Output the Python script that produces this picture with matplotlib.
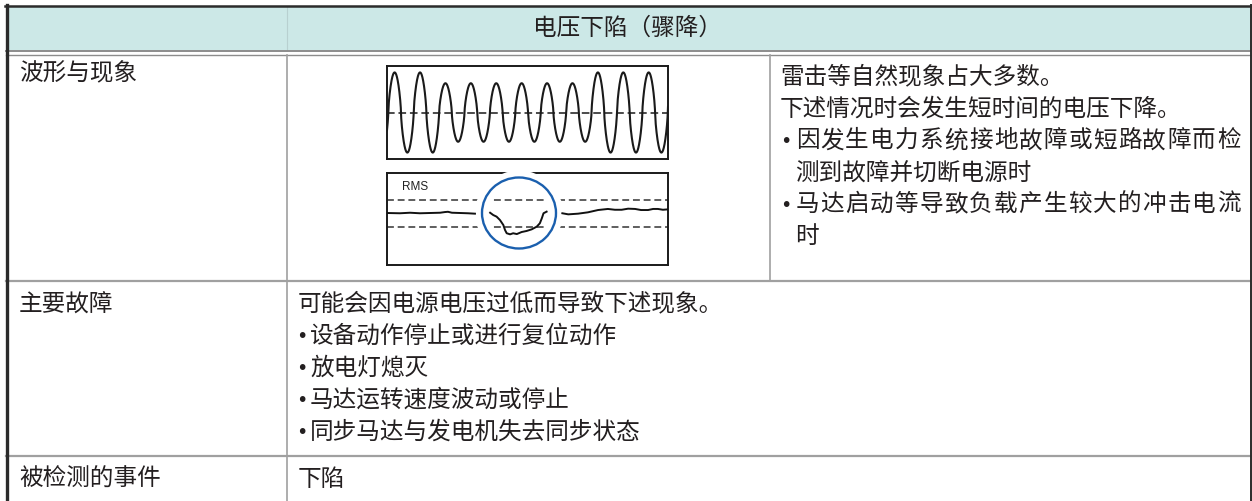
import numpy as np
import matplotlib
matplotlib.use("Agg")
import matplotlib.pyplot as plt
from matplotlib.patches import Rectangle, Ellipse

plt.rcParams['font.family'] = ['Noto Sans CJK SC', 'DejaVu Sans']

# ---------------- data ----------------
header_title = "电压下陷（骤降）"
row_labels = ["波形与现象", "主要故障", "被检测的事件"]

row1_plain = ["雷击等自然现象占大多数。", "下述情况时会发生短时间的电压下降。"]
row1_bullets = [["因发生电力系统接地故障或短路故障而检", "测到故障并切断电源时"],
                ["马达启动等导致负载产生较大的冲击电流", "时"]]
row2_intro = "可能会因电源电压过低而导致下述现象。"
row2_bullets = ["设备动作停止或进行复位动作", "放电灯熄灭", "马达运转速度波动或停止",
                "同步马达与发电机失去同步状态"]
row3_text = "下陷"

# waveform: relative amplitude of each cycle (peak + following trough)
cycle_amplitudes = [1.0, 1.0, 0.73, 0.73, 0.73, 0.73, 0.73, 0.73, 1.0, 1.0, 1.0]
n_cycles_shown = 11.06
first_zero_cross = 0.05

# RMS trace (time in % of window, RMS in % of nominal)
rms_left_t = [0, 4.6, 8.2, 11.7, 15.3, 18.9, 20.6, 21.7, 23.1, 26.0, 28.8, 31.3]
rms_left_v = [100, 99.8, 100.2, 99.8, 100, 100.2, 100.7, 100.9, 100.2, 100, 99.8, 99.5]
rms_dip_t = [36.7, 37.8, 39.0, 40.2, 41.4, 42.0, 42.6, 43.8, 44.9, 46.2, 47.9, 49.7,
             51.5, 53.3, 54.4, 55.1, 55.7, 56.8]
rms_dip_v = [100.2, 98.5, 97.3, 94.8, 91.1, 87.4, 85.0, 84.2, 85.0, 84.4, 85.9, 86.7,
             87.9, 89.9, 92.4, 96.1, 99.8, 101.0]
rms_right_t = [62.4, 64.5, 68.0, 71.5, 75.1, 78.6, 81.1, 83.5, 85.8, 88.3, 90.4, 92.9,
               94.7, 96.4, 98.2, 100]
rms_right_v = [99.8, 99.0, 99.5, 100.5, 102.2, 103.0, 102.4, 102.4, 103.2, 103.0, 102.2,
               102.2, 103.0, 103.0, 102.4, 102.7]
rms_thresholds = [110, 90]

# ---------------- figure ----------------
W, H = 1252, 501
fig = plt.figure(figsize=(W / 100, H / 100), dpi=100)
ax = fig.add_axes([0, 0, 1, 1])
ax.set_xlim(0, W)
ax.set_ylim(H, 0)
ax.axis('off')

TXT = '#231f20'
GRID = '#a0a0a0'
DARK = '#2b2b2b'
FS = 17

# header fill
ax.add_patch(Rectangle((6, 6), 1244, 44, facecolor='#cce8e7', edgecolor='none', zorder=0))
ax.plot([287, 287], [7, 50], color='#b8d0d0', lw=0.8, zorder=1)
# double rule below header
ax.plot([6, 1250], [50.7, 50.7], color='#8c8c8c', lw=1.4, zorder=2)
ax.plot([6, 1250], [55, 55], color='#8c8c8c', lw=1.0, zorder=2)
# row rules
ax.plot([6, 1250], [281, 281], color=GRID, lw=1.6, zorder=2)
ax.plot([6, 1250], [456, 456], color=GRID, lw=1.6, zorder=2)
# column rules
ax.plot([287, 287], [55, H], color=GRID, lw=1.2, zorder=2)
ax.plot([769.5, 769.5], [55, 281], color=GRID, lw=1.2, zorder=2)
# outer border
ax.plot([6.5, 6.5], [5, H], color=DARK, lw=2.4, zorder=3)
ax.plot([5, 1251], [6, 6], color=DARK, lw=1.8, zorder=3)
ax.plot([1250.5, 1250.5], [5, H], color=DARK, lw=1.4, zorder=3)

# header text
ax.text(628, 28, header_title, fontsize=FS, color=TXT, ha='center', va='center')

# left column labels
for lbl, y in zip(row_labels, [74, 304, 479]):
    ax.text(19, y, lbl, fontsize=FS, color=TXT, ha='left', va='center')

# row 1 right column
line_gap = 31.9
y = 77
for s in row1_plain:
    ax.text(780, y, s, fontsize=FS, color=TXT, ha='left', va='center')
    y += line_gap
for first, rest in row1_bullets:
    ax.text(786, y + 1, '•', fontsize=FS - 3, color=TXT, ha='center', va='center',
            family=['DejaVu Sans'])
    # justified line: distribute characters between the cell margins
    x0, x1 = 795, 1241
    adv = (x1 - x0) / len(first)
    for i, ch in enumerate(first):
        ax.text(x0 + (i + 0.5) * adv, y, ch, fontsize=FS, color=TXT, ha='center', va='center')
    y += line_gap
    ax.text(795, y, rest, fontsize=FS, color=TXT, ha='left', va='center')
    y += line_gap

# row 2
y = 304
ax.text(298, y, row2_intro, fontsize=FS, color=TXT, ha='left', va='center')
for s in row2_bullets:
    y += 32
    ax.text(302, y + 1, '•', fontsize=FS - 3, color=TXT, ha='center', va='center',
            family=['DejaVu Sans'])
    ax.text(310, y, s, fontsize=FS, color=TXT, ha='left', va='center')

# row 3
ax.text(298, 479, row3_text, fontsize=FS, color=TXT, ha='left', va='center')

# ---------------- waveform panel ----------------
def fig_rect(x0, y0, x1, y1):
    return [x0 / W, 1 - y1 / H, (x1 - x0) / W, (y1 - y0) / H]

ax1 = fig.add_axes(fig_rect(387, 66, 668, 159))
t = np.linspace(0, n_cycles_shown, 3000)
idx = np.clip(np.floor(t - first_zero_cross).astype(int), 0, len(cycle_amplitudes) - 1)
amp = np.array(cycle_amplitudes)[idx]
s = np.sin(2 * np.pi * (t - first_zero_cross))
wave = amp * np.sign(s) * np.abs(s) ** 0.7
ax1.plot(t, wave, color='#1a1a1a', lw=1.5)
ax1.axhline(0, color='#1a1a1a', lw=1.1, dashes=(5, 2.5))
ax1.set_xlim(0, n_cycles_shown)
ax1.set_ylim(-1.16, 1.16)
ax1.set_xticks([])
ax1.set_yticks([])
for sp in ax1.spines.values():
    sp.set_linewidth(1.4)
    sp.set_color('#1a1a1a')

# ---------------- RMS panel ----------------
ax2 = fig.add_axes(fig_rect(387, 172.5, 668, 265))
ax2.set_xlim(0, 100)
ax2.set_ylim(100 - 52 / 1.35, 100 + 40.5 / 1.35)
ax2.set_xticks([])
ax2.set_yticks([])
for sp in ax2.spines.values():
    sp.set_linewidth(1.4)
    sp.set_color('#1a1a1a')
    sp.set_zorder(2)
for th in rms_thresholds:
    ax2.axhline(th, color='#333333', lw=1.1, dashes=(4.5, 2.5), zorder=1)
for tt, vv in [(rms_left_t, rms_left_v), (rms_dip_t, rms_dip_v), (rms_right_t, rms_right_v)]:
    ax2.plot(tt, vv, color='#111111', lw=1.4, zorder=5)
ax2.text(0.052, 0.84, 'RMS', transform=ax2.transAxes, fontsize=8.5, color='#222222',
         family=['Liberation Sans', 'DejaVu Sans'], ha='left', va='center')

# highlight circle (drawn in pixel coordinates of the main axes)
halo = Ellipse((519, 213), 74, 71, transform=ax.transData, fill=False,
               edgecolor='white', lw=10, zorder=3, clip_on=False)
ring = Ellipse((519, 213), 74, 71, transform=ax.transData, fill=False,
               edgecolor='#1a5fae', lw=1.7, zorder=6, clip_on=False)
ax2.add_patch(halo)
ax2.add_patch(ring)

fig.savefig('out.png', dpi=100)
